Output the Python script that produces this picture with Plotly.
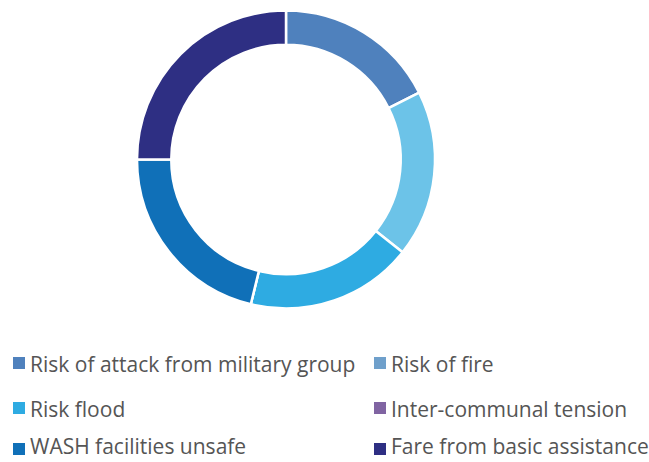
import plotly.graph_objects as go

categorias = [
    "Risk of attack from military group",
    "Risk of fire",
    "Risk flood",
    "Inter-communal tension",
    "WASH facilities unsafe",
    "Fare from basic assistance",
]
valores = [17.6, 18.1, 18.1, 0, 21.2, 25.0]
cores_fatias = ["#4F81BD", "#6CC3E8", "#2EABE2", "#8064A2", "#1070B8", "#2E2F83"]
cores_legenda = ["#4F81BD", "#6FA0CB", "#2EABE2", "#8064A2", "#1070B8", "#2E2F83"]

W, H = 649, 462


def px_x(x):
    return x / W


def px_y(y):
    return 1 - y / H


fig = go.Figure()

fig.add_trace(go.Pie(
    labels=categorias,
    values=valores,
    hole=0.77,
    sort=False,
    direction="clockwise",
    rotation=0,
    textinfo="none",
    marker=dict(colors=cores_fatias, line=dict(color="white", width=2.5)),
    domain=dict(x=[px_x(137), px_x(435)], y=[px_y(308.5), px_y(10.5)]),
    showlegend=False,
    hovertemplate="<b>%{label}</b><br>%{value}<extra></extra>",
))

# Legenda manual em duas colunas
posicoes = [(13, 363), (374, 363), (13, 408), (374, 408), (13, 449), (374, 449)]
shapes = []
annotations = []
for nome, cor, (x0, yc) in zip(categorias, cores_legenda, posicoes):
    shapes.append(dict(
        type="rect", xref="paper", yref="paper",
        x0=px_x(x0), x1=px_x(x0 + 12),
        y0=px_y(yc + 6), y1=px_y(yc - 6),
        fillcolor=cor, line=dict(width=0),
    ))
    # última linha encosta na borda de baixo: ancora pelo rodapé
    if yc > 440:
        y_txt, anchor = 0, "bottom"
    else:
        y_txt, anchor = px_y(yc + 1), "middle"
    annotations.append(dict(
        x=px_x(x0 + 15), y=y_txt, xref="paper", yref="paper",
        text=nome, showarrow=False, xanchor="left", yanchor=anchor,
        font=dict(family="Open Sans", size=21, color="#555555"),
    ))

fig.update_layout(
    width=W,
    height=H,
    margin=dict(l=0, r=0, t=0, b=0),
    paper_bgcolor="white",
    plot_bgcolor="white",
    shapes=shapes,
    annotations=annotations,
)

# remove a margem padrão do <body> para o gráfico ficar em (0, 0)
fig.write_html(
    "out.html",
    config={"displayModeBar": False},
    post_script="document.body.style.margin='0';",
)
